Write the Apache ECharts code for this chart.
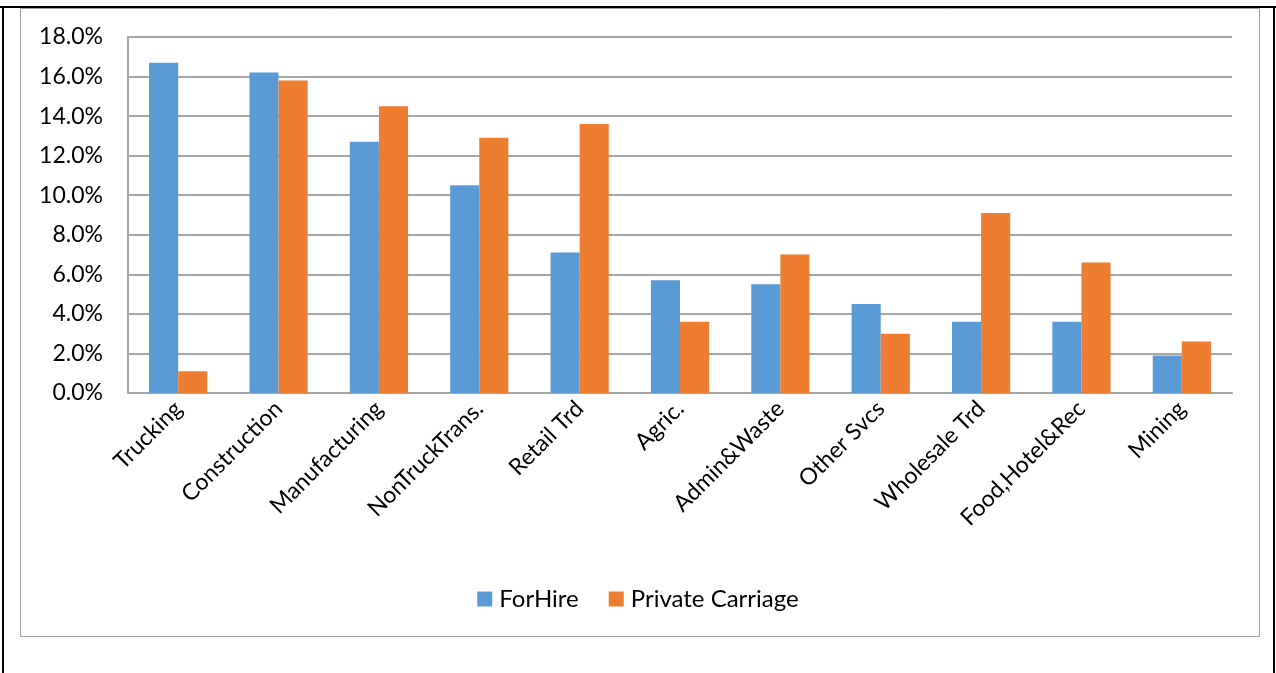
<!DOCTYPE html>
<html>
<head>
<meta charset="utf-8">
<script src="https://cdn.jsdelivr.net/npm/echarts@6/dist/echarts.min.js"></script>
<style>
  html, body { margin: 0; padding: 0; background: #fff; }
  #chart { width: 1276px; height: 673px; }
</style>
</head>
<body>
<div id="chart"></div>
<script>
// Industry shares (%) by carriage type
const categories = ['Trucking', 'Construction', 'Manufacturing', 'NonTruckTrans.', 'Retail Trd',
  'Agric.', 'Admin&Waste', 'Other Svcs', 'Wholesale Trd', 'Food,Hotel&Rec', 'Mining'];
const forHire = [16.7, 16.2, 12.7, 10.5, 7.1, 5.7, 5.5, 4.5, 3.6, 3.6, 1.9];
const privateCarriage = [1.1, 15.8, 14.5, 12.9, 13.6, 3.6, 7.0, 3.0, 9.1, 6.6, 2.6];
const seriesNames = ['ForHire', 'Private Carriage'];

const FONT = 'Lato, "Open Sans", sans-serif';

const chart = echarts.init(document.getElementById('chart'), null, { renderer: 'canvas' });
chart.setOption({
  backgroundColor: '#ffffff',
  animation: false,
  textStyle: { fontFamily: FONT },
  grid: { left: 128, right: 44, top: 37, bottom: 280, containLabel: false },
  legend: {
    bottom: 57,
    left: 'center',
    itemWidth: 15,
    itemHeight: 15,
    itemGap: 30,
    icon: 'rect',
    textStyle: { fontFamily: FONT, fontSize: 24, color: '#000', padding: [0, 0, 0, 2] },
    data: seriesNames
  },
  xAxis: {
    type: 'category',
    data: categories,
    axisLine: { show: true, lineStyle: { color: '#a6a6a6', width: 2 } },
    axisTick: { show: false },
    axisLabel: {
      rotate: 45,
      margin: 12,
      interval: 0,
      fontFamily: FONT,
      fontSize: 23,
      color: '#000'
    }
  },
  yAxis: {
    type: 'value',
    min: 0,
    max: 18,
    interval: 2,
    axisLine: { show: true, lineStyle: { color: '#a6a6a6', width: 2 } },
    axisTick: { show: false },
    splitLine: { lineStyle: { color: '#a6a6a6', width: 2 } },
    axisLabel: {
      margin: 25,
      fontFamily: FONT,
      fontSize: 23,
      color: '#000',
      formatter: v => v.toFixed(1) + '%'
    }
  },
  series: [
    {
      name: seriesNames[0],
      type: 'bar',
      data: forHire,
      barGap: '0%',
      barCategoryGap: '42%',
      itemStyle: { color: '#5b9bd5' }
    },
    {
      name: seriesNames[1],
      type: 'bar',
      data: privateCarriage,
      barGap: '0%',
      barCategoryGap: '42%',
      itemStyle: { color: '#ed7d31' }
    }
  ],
  graphic: [
    // chart area frame
    { type: 'rect', shape: { x: 20.5, y: 8.5, width: 1239, height: 628 },
      style: { fill: 'none', stroke: '#a0a0a0', lineWidth: 1 }, z: -1 },
    // outer page frame
    { type: 'line', shape: { x1: 0, y1: 7, x2: 1276, y2: 7 }, style: { stroke: '#000', lineWidth: 2 } },
    { type: 'line', shape: { x1: 3, y1: 7, x2: 3, y2: 673 }, style: { stroke: '#000', lineWidth: 2 } },
    { type: 'line', shape: { x1: 1274, y1: 7, x2: 1274, y2: 673 }, style: { stroke: '#000', lineWidth: 2 } }
  ]
});
</script>
</body>
</html>
